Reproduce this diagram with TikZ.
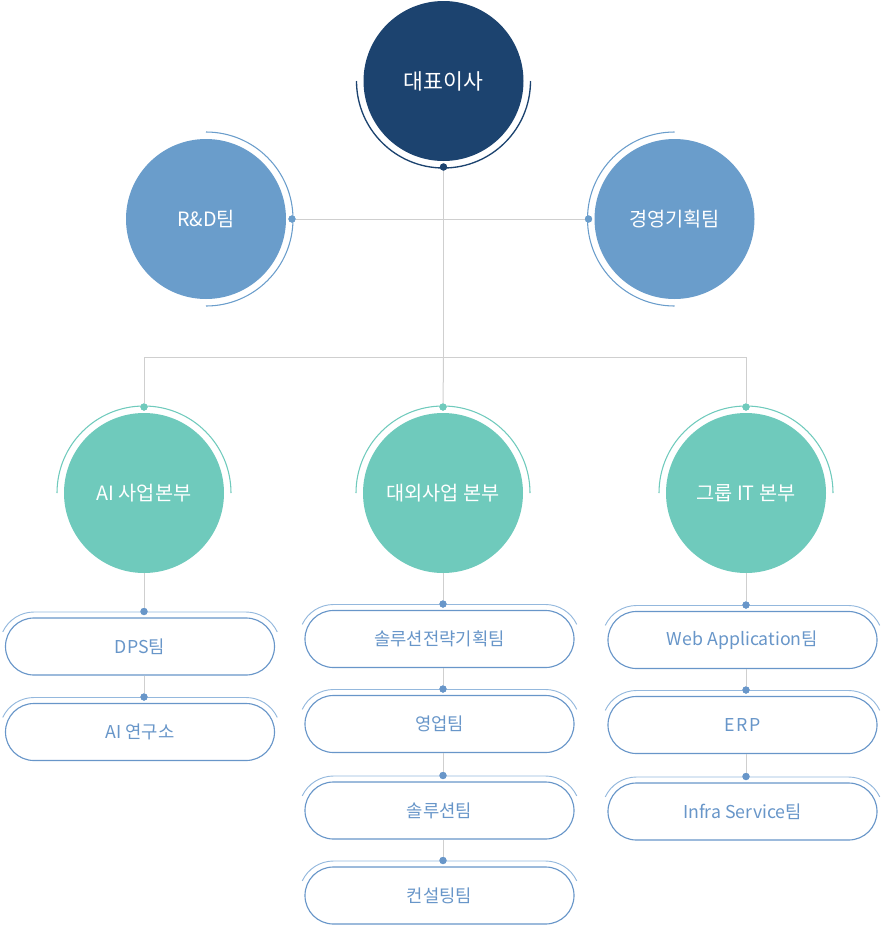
\documentclass[tikz,border=0pt]{standalone}
\usepackage{fontspec}
\setmainfont{Noto Sans CJK KR}
\definecolor{cNavy}{HTML}{1C436F}
\definecolor{cBlue}{HTML}{6A9DCB}
\definecolor{cTeal}{HTML}{6FCABC}
\definecolor{cPill}{HTML}{6896C9}
\definecolor{cPillOut}{HTML}{94B8DD}
\definecolor{cGray}{HTML}{CFCFCF}
\newcommand\pillRing[1]{\draw[pillring] ([xshift=-79.5pt]#1.center) ++(155:25.875pt) arc[start angle=155,end angle=90,radius=25.875pt] -- ++(159pt,0pt) arc[start angle=90,end angle=25,radius=25.875pt];}
\begin{document}
\begin{tikzpicture}[x=0.75pt,y=-0.75pt,
  conn/.style={draw=cGray, line width=0.75pt},
  bigc/.style={circle, minimum size=120pt, inner sep=0pt, text=white, font=\fontsize{14.8}{17}\selectfont},
  topc/.style={bigc, fill=cNavy, font=\fontsize{16.2}{19}\selectfont},
  bluec/.style={bigc, fill=cBlue},
  greenc/.style={bigc, fill=cTeal},
  ring/.style={line width=0.8pt},
  pill/.style={rectangle, rounded corners=21.3pt, draw=cPill, line width=0.85pt, fill=white,
    minimum width=201.75pt, minimum height=42.75pt, inner sep=0pt, text=cPill,
    font=\fontsize{13.3}{16}\selectfont},
  pillring/.style={draw=cPillOut, line width=0.7pt},
  dotn/.style={circle, inner sep=0pt, minimum size=5.4pt}
]
\useasboundingbox (0,0) rectangle (882,925);

% circles
\node[topc] (ceo) at (443.5,81) {대표이사};
\node[bluec] (rd) at (206,219) {R\&D팀};
\node[bluec] (mg) at (674.5,219) {경영기획팀};
\node[greenc] (cA) at (144,493) {AI 사업본부};
\node[greenc] (cB) at (443,493) {대외사업 본부};
\node[greenc] (cC) at (746,493) {그룹 IT 본부};

% dots on circle rings
\node[dotn, fill=cNavy] (d0) at (443.5,167) {};
\node[dotn, fill=cBlue] (dRD) at (292,219) {};
\node[dotn, fill=cBlue] (dMG) at (588.5,219) {};
\node[dotn, fill=cTeal] (dA) at (144,407) {};
\node[dotn, fill=cTeal] (dB) at (443,407) {};
\node[dotn, fill=cTeal] (dC) at (746,407) {};

% bus coordinates
\coordinate (busL) at (144,357);
\coordinate (busC) at (443.5,357);
\coordinate (busR) at (746,357);

% pills
\node[pill] (a1) at (140,646.5) {DPS팀};
\node[pill] (a2) at (140,732) {AI 연구소};
\node[pill] (b1) at (439.5,639) {솔루션전략기획팀};
\node[pill] (b2) at (439.5,724) {영업팀};
\node[pill] (b3) at (439.5,810.5) {솔루션팀};
\node[pill] (b4) at (439.5,895.5) {컨설팅팀};
\node[pill] (c1) at (742.5,640) {Web Application팀};
\node[pill] (c2) at (742.5,725) {E\kern1.5pt R\kern1.5pt P};
\node[pill] (c3) at (742.5,811.5) {Infra Service팀};

% pill dots
\node[dotn, fill=cPill] (pa1) at (144,611.5) {};
\node[dotn, fill=cPill] (pa2) at (144,697) {};
\node[dotn, fill=cPill] (pb1) at (443,604) {};
\node[dotn, fill=cPill] (pb2) at (443,689) {};
\node[dotn, fill=cPill] (pb3) at (443,775.5) {};
\node[dotn, fill=cPill] (pb4) at (443,860.5) {};
\node[dotn, fill=cPill] (pc1) at (746,605) {};
\node[dotn, fill=cPill] (pc2) at (746,690) {};
\node[dotn, fill=cPill] (pc3) at (746,776.5) {};

% connectors
\draw[conn] (d0) -- (busC);
\draw[conn] (dRD) -- (dMG);
\draw[conn] (busL) -- (busR);
\draw[conn] (busL) -- (dA);
\draw[conn] (busC) -- (dB);
\draw[conn] (busR) -- (dC);
\draw[conn] (cA.south) -- (pa1);
\draw[conn] (a1.south -| pa2) -- (pa2);
\draw[conn] (cB.south) -- (pb1);
\draw[conn] (b1.south -| pb2) -- (pb2);
\draw[conn] (b2.south -| pb3) -- (pb3);
\draw[conn] (b3.south -| pb4) -- (pb4);
\draw[conn] (cC.south) -- (pc1);
\draw[conn] (c1.south -| pc2) -- (pc2);
\draw[conn] (c2.south -| pc3) -- (pc3);

% rings around circles
\draw[ring, cNavy, line width=1pt] (ceo.center) ++(180:65.25pt) arc[start angle=180,end angle=360,radius=65.25pt];
\draw[ring, cBlue] (rd.center) ++(90:65.25pt) arc[start angle=90,end angle=-90,radius=65.25pt];
\draw[ring, cBlue] (mg.center) ++(90:65.25pt) arc[start angle=90,end angle=270,radius=65.25pt];
\draw[ring, cTeal] (cA.center) ++(0:65.25pt) arc[start angle=0,end angle=180,radius=65.25pt];
\draw[ring, cTeal] (cB.center) ++(0:65.25pt) arc[start angle=0,end angle=180,radius=65.25pt];
\draw[ring, cTeal] (cC.center) ++(0:65.25pt) arc[start angle=0,end angle=180,radius=65.25pt];

% rings over pills
\pillRing{a1}\pillRing{a2}
\pillRing{b1}\pillRing{b2}\pillRing{b3}\pillRing{b4}
\pillRing{c1}\pillRing{c2}\pillRing{c3}

% dots on top
\foreach \n/\c in {d0/cNavy,dRD/cBlue,dMG/cBlue,dA/cTeal,dB/cTeal,dC/cTeal,pa1/cPill,pa2/cPill,pb1/cPill,pb2/cPill,pb3/cPill,pb4/cPill,pc1/cPill,pc2/cPill,pc3/cPill}
  \fill[\c] (\n.center) circle[radius=2.7pt];
\end{tikzpicture}
\end{document}
